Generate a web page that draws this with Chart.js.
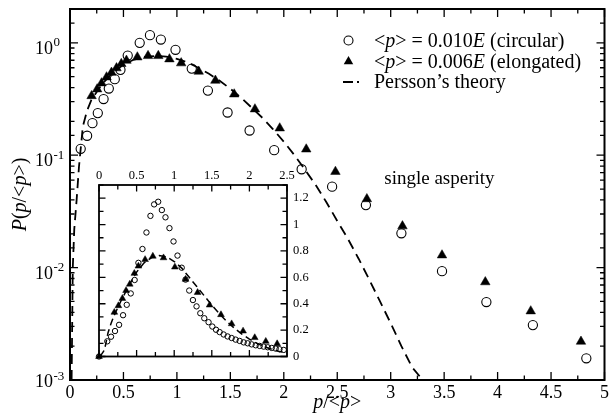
<!DOCTYPE html>
<html>
<head>
<meta charset="utf-8">
<script src="https://cdn.jsdelivr.net/npm/chart.js@4/dist/chart.umd.min.js"></script>
<style>
  html, body { margin: 0; padding: 0; background: #fff; }
  #wrap { position: relative; width: 611px; height: 419px; }
  #main { position: absolute; left: 0; top: 0; }
  #inset { position: absolute; left: 80px; top: 160px; }
</style>
</head>
<body>
<div id="wrap">
  <canvas id="main" width="611" height="419"></canvas>
  <canvas id="inset" width="240" height="210"></canvas>
</div>
<script>
// circular contact, <p> = 0.010E (log-spaced bins)
const circX = [0.10, 0.16, 0.21, 0.26, 0.314, 0.363, 0.419, 0.472, 0.54, 0.652, 0.748, 0.85, 0.987,
  1.139, 1.29, 1.474, 1.68, 1.91, 2.167, 2.452, 2.768, 3.10, 3.48, 3.895, 4.33, 4.83];
const circP = [0.114, 0.149, 0.193, 0.237, 0.316, 0.392, 0.475, 0.575, 0.77, 1.0, 1.17, 1.07, 0.867,
  0.59, 0.376, 0.24, 0.166, 0.111, 0.075, 0.0525, 0.036, 0.0202, 0.0093, 0.00494, 0.00308, 0.00156];

// elongated contact, <p> = 0.006E
const elongX = [0.202, 0.254, 0.295, 0.342, 0.388, 0.435, 0.48, 0.528, 0.63, 0.73, 0.826, 0.93, 1.04,
  1.204, 1.36, 1.536, 1.73, 1.962, 2.21, 2.483, 2.777, 3.11, 3.48, 3.885, 4.31, 4.78];
const elongP = [0.337, 0.387, 0.438, 0.495, 0.544, 0.596, 0.65, 0.696, 0.745, 0.766, 0.766, 0.716, 0.66,
  0.556, 0.462, 0.349, 0.257, 0.174, 0.113, 0.0714, 0.0408, 0.0234, 0.0129, 0.00744, 0.0041, 0.0022];

// Persson's theory
const theoryX = [0.015, 0.026, 0.04, 0.062, 0.084, 0.12, 0.16, 0.2, 0.3, 0.4, 0.5, 0.6, 0.7, 0.8, 0.9,
  1.0, 1.1, 1.2, 1.3, 1.4, 1.5, 1.6, 1.7, 1.8, 1.9, 2.0, 2.1, 2.2, 2.3, 2.4, 2.5, 2.6, 2.7, 2.8, 2.9,
  3.0, 3.1, 3.2, 3.3];
const theoryP = [0.001, 0.01, 0.022, 0.04, 0.079, 0.18, 0.25, 0.31, 0.43, 0.54, 0.64, 0.71, 0.75, 0.765, 0.755,
  0.72, 0.67, 0.60, 0.53, 0.46, 0.39, 0.325, 0.265, 0.215, 0.17, 0.132, 0.10, 0.074, 0.054, 0.038, 0.026,
  0.018, 0.012, 0.0078, 0.005, 0.0032, 0.002, 0.0013, 0.001];

// inset, linear axes, finer bins
const insetCircX = [0, 0.11, 0.16, 0.213, 0.267, 0.32, 0.369, 0.422, 0.474, 0.524, 0.578, 0.631, 0.684,
  0.733, 0.787, 0.836, 0.884, 0.937, 0.991, 1.044, 1.10, 1.151, 1.20, 1.249, 1.297, 1.347, 1.40, 1.457,
  1.507, 1.556, 1.604, 1.657, 1.71, 1.764, 1.817, 1.871, 1.924, 1.977, 2.03, 2.084, 2.137, 2.19, 2.244,
  2.297, 2.35, 2.40, 2.457];
const insetCircP = [0, 0.115, 0.15, 0.193, 0.24, 0.313, 0.392, 0.478, 0.58, 0.71, 0.815, 0.94, 1.066,
  1.153, 1.173, 1.11, 1.055, 0.973, 0.872, 0.765, 0.673, 0.583, 0.50, 0.428, 0.38, 0.328, 0.29, 0.26,
  0.227, 0.203, 0.185, 0.167, 0.152, 0.14, 0.128, 0.118, 0.107, 0.10, 0.092, 0.085, 0.08, 0.075, 0.07,
  0.065, 0.06, 0.055, 0.05];
const insetElongX = [0, 0.204, 0.258, 0.311, 0.36, 0.409, 0.47, 0.524, 0.613, 0.716, 0.858, 1.009, 1.151,
  1.311, 1.471, 1.622, 1.764, 1.916, 2.071, 2.218, 2.369];
const insetElongP = [0, 0.335, 0.385, 0.44, 0.50, 0.548, 0.63, 0.685, 0.735, 0.76, 0.748, 0.678, 0.585,
  0.485, 0.39, 0.317, 0.248, 0.193, 0.143, 0.115, 0.097];

// decades labelled on the main y axis
const yDecades = [1, 0.1, 0.01, 0.001];

const SERIF = '"Liberation Serif", "Times New Roman", serif';
const pts = (xs, ys) => xs.map((x, i) => ({ x: x, y: ys[i] }));
const fmt = v => String(Math.round(v * 100) / 100);

function drawRuns(ctx, runs, x, y, size) {
  let cx = x;
  runs.forEach(([text, italic]) => {
    ctx.font = (italic ? 'italic ' : '') + size + 'px ' + SERIF;
    ctx.fillText(text, cx, y);
    cx += ctx.measureText(text).width;
  });
  return cx - x;
}

function runsWidth(ctx, runs, size) {
  let w = 0;
  runs.forEach(([text, italic]) => {
    ctx.font = (italic ? 'italic ' : '') + size + 'px ' + SERIF;
    w += ctx.measureText(text).width;
  });
  return w;
}

function linearTicks(scale, step, majorEvery) {
  const n = Math.round((scale.max - scale.min) / step);
  const out = [];
  for (let i = 0; i <= n; i++) out.push({ value: scale.min + i * step, major: i % majorEvery === 0 });
  return out;
}

// frame plus inward tick marks on all four sides
function drawFrame(chart, xTicks, yTicks, majorLen, minorLen, frameWidth) {
  const { ctx, chartArea: a } = chart;
  const xs = chart.scales.x, ys = chart.scales.y;
  ctx.save();
  ctx.strokeStyle = '#000';
  ctx.lineWidth = 1.3;
  ctx.beginPath();
  xTicks.forEach(t => {
    const px = xs.getPixelForValue(t.value);
    const len = t.major ? majorLen : minorLen;
    ctx.moveTo(px, a.bottom); ctx.lineTo(px, a.bottom - len);
    ctx.moveTo(px, a.top); ctx.lineTo(px, a.top + len);
  });
  yTicks.forEach(t => {
    const py = ys.getPixelForValue(t.value);
    const len = t.major ? majorLen : minorLen;
    ctx.moveTo(a.left, py); ctx.lineTo(a.left + len, py);
    ctx.moveTo(a.right, py); ctx.lineTo(a.right - len, py);
  });
  ctx.stroke();
  ctx.lineWidth = frameWidth;
  ctx.strokeRect(a.left, a.top, a.right - a.left, a.bottom - a.top);
  ctx.restore();
}

const legendRows = [
  { mark: 'circle', y: 40.5, runs: [['<', 0], ['p', 1], ['> = 0.010', 0], ['E', 1], [' (circular)', 0]] },
  { mark: 'triangle', y: 61.5, runs: [['<', 0], ['p', 1], ['> = 0.006', 0], ['E', 1], [' (elongated)', 0]] },
  { mark: 'dash', y: 82, runs: [['Persson\u2019s theory', 0]] }
];

const mainDecor = {
  id: 'mainDecor',
  afterDraw(chart) {
    const { ctx, chartArea: a } = chart;
    const xs = chart.scales.x, ys = chart.scales.y;

    const logTicks = ys.ticks
      .filter(t => t.value >= ys.min && t.value <= ys.max)
      .map(t => {
        const e = Math.log10(t.value);
        return { value: t.value, major: Math.abs(e - Math.round(e)) < 1e-9 };
      });
    drawFrame(chart, linearTicks(xs, 0.25, 2), logTicks, 8, 4.5, 2);

    ctx.save();
    ctx.fillStyle = '#000';
    ctx.textAlign = 'left';
    ctx.textBaseline = 'alphabetic';

    // 10^n labels on the left axis
    yDecades.forEach(d => {
      const py = ys.getPixelForValue(d);
      const base = Math.min(py + 11, a.bottom + 7);
      ctx.font = '18px ' + SERIF;
      ctx.fillText('10', 35, base);
      const w = ctx.measureText('10').width;
      ctx.font = '13px ' + SERIF;
      ctx.fillText(String(Math.round(Math.log10(d))), 35 + w + 0.5, base - 7.5);
    });

    // axis titles
    const xTitle = [['p', 1], ['/<', 0], ['p', 1], ['>', 0]];
    const xw = runsWidth(ctx, xTitle, 20);
    drawRuns(ctx, xTitle, (a.left + a.right) / 2 - xw / 2, 408, 20);

    const yTitle = [['P', 1], ['(', 0], ['p', 1], ['/<', 0], ['p', 1], ['>)', 0]];
    const yw = runsWidth(ctx, yTitle, 20);
    ctx.save();
    ctx.translate(26, (a.top + a.bottom) / 2);
    ctx.rotate(-Math.PI / 2);
    drawRuns(ctx, yTitle, -yw / 2, 0, 20);
    ctx.restore();

    // legend
    const markX = 348.5, textX = 374;
    legendRows.forEach(row => {
      ctx.fillStyle = '#000';
      ctx.strokeStyle = '#000';
      if (row.mark === 'circle') {
        ctx.lineWidth = 1.1;
        ctx.beginPath();
        ctx.arc(markX, row.y, 4.5, 0, Math.PI * 2);
        ctx.stroke();
      } else if (row.mark === 'triangle') {
        const r = 5.5;
        ctx.beginPath();
        ctx.moveTo(markX, row.y - r);
        ctx.lineTo(markX + r * 0.866, row.y + r / 2);
        ctx.lineTo(markX - r * 0.866, row.y + r / 2);
        ctx.closePath();
        ctx.fill();
      } else {
        ctx.lineWidth = 1.8;
        ctx.setLineDash([10, 4]);
        ctx.beginPath();
        ctx.moveTo(343, row.y);
        ctx.lineTo(359, row.y);
        ctx.stroke();
        ctx.setLineDash([]);
      }
      drawRuns(ctx, row.runs, textX, row.y + 6, 20);
    });

    // label for the contact geometry
    ctx.font = '19px ' + SERIF;
    ctx.fillText('single asperity', xs.getPixelForValue(2.94), ys.getPixelForValue(0.0555));
    ctx.restore();
  }
};

const insetDecor = {
  id: 'insetDecor',
  afterDraw(chart) {
    drawFrame(chart, linearTicks(chart.scales.x, 0.25, 2), linearTicks(chart.scales.y, 0.1, 2), 6.5, 4.5, 1.8);
  }
};

new Chart(document.getElementById('main'), {
  type: 'scatter',
  data: {
    datasets: [
      {
        label: 'Persson\u2019s theory',
        data: pts(theoryX, theoryP),
        showLine: true,
        borderColor: '#000',
        borderWidth: 1.8,
        borderDash: [10, 6],
        pointRadius: 0,
        fill: false
      },
      {
        label: 'circular',
        data: pts(circX, circP),
        pointStyle: 'circle',
        pointRadius: 4.6,
        borderWidth: 1.1,
        borderColor: '#000',
        backgroundColor: 'rgba(0,0,0,0)',
        clip: false
      },
      {
        label: 'elongated',
        data: pts(elongX, elongP),
        pointStyle: 'triangle',
        pointRadius: 5.5,
        borderWidth: 0.5,
        borderColor: '#000',
        backgroundColor: '#000',
        clip: false
      }
    ]
  },
  options: {
    responsive: false,
    animation: false,
    events: [],
    layout: { padding: { top: 9, right: 4, left: 0, bottom: 0 } },
    plugins: { legend: { display: false }, tooltip: { enabled: false } },
    scales: {
      x: {
        type: 'linear', min: 0, max: 5,
        ticks: { stepSize: 0.5, color: '#000', font: { family: SERIF, size: 18 }, padding: 2, maxRotation: 0, autoSkip: false, callback: fmt },
        grid: { display: false, drawTicks: false },
        border: { display: false },
        afterFit: s => { s.height = 39; }
      },
      y: {
        type: 'logarithmic', min: 0.001, max: 2,
        ticks: { display: false },
        grid: { display: false, drawTicks: false },
        border: { display: false },
        afterFit: s => { s.width = 70; }
      }
    }
  },
  plugins: [mainDecor]
});

new Chart(document.getElementById('inset'), {
  type: 'scatter',
  data: {
    datasets: [
      {
        label: 'theory',
        data: pts(theoryX, theoryP),
        showLine: true,
        borderColor: '#000',
        borderWidth: 1.5,
        borderDash: [7, 4],
        pointRadius: 0,
        fill: false
      },
      {
        label: 'circular',
        data: pts(insetCircX, insetCircP),
        pointStyle: 'circle',
        pointRadius: 2.7,
        borderWidth: 1,
        borderColor: '#000',
        backgroundColor: 'rgba(0,0,0,0)',
        clip: false
      },
      {
        label: 'elongated',
        data: pts(insetElongX, insetElongP),
        pointStyle: 'triangle',
        pointRadius: 3.9,
        borderWidth: 0.5,
        borderColor: '#000',
        backgroundColor: '#000',
        clip: false
      }
    ]
  },
  options: {
    responsive: false,
    animation: false,
    events: [],
    layout: { padding: { top: 0, right: 0, left: 19, bottom: 12 } },
    plugins: { legend: { display: false }, tooltip: { enabled: false } },
    scales: {
      x: {
        type: 'linear', position: 'top', min: 0, max: 2.5,
        ticks: { stepSize: 0.5, color: '#000', font: { family: SERIF, size: 12.5 }, padding: 2, maxRotation: 0, autoSkip: false, callback: fmt },
        grid: { display: false, drawTicks: false },
        border: { display: false },
        afterFit: s => { s.height = 25; }
      },
      y: {
        type: 'linear', position: 'right', min: 0, max: 1.3,
        ticks: { stepSize: 0.2, includeBounds: false, color: '#000', font: { family: SERIF, size: 12.5 }, padding: 6, autoSkip: false, callback: fmt },
        grid: { display: false, drawTicks: false },
        border: { display: false },
        afterFit: s => { s.width = 33; }
      }
    }
  },
  plugins: [insetDecor]
});
</script>
</body>
</html>
